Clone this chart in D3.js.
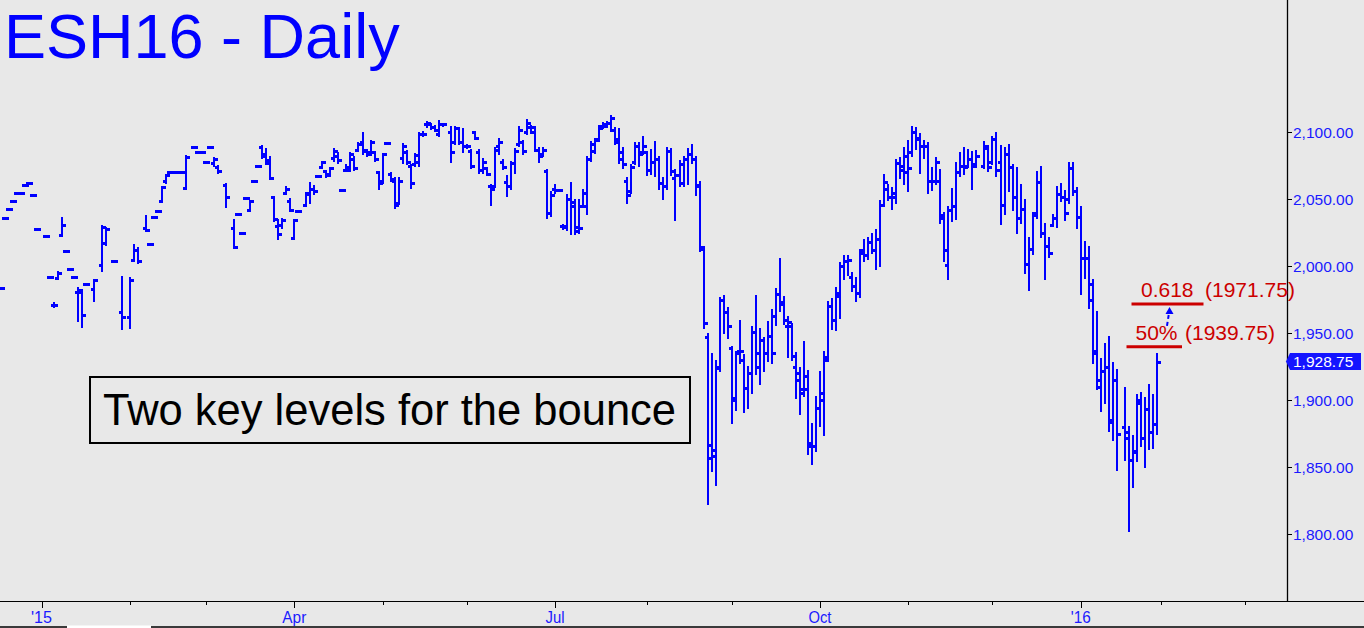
<!DOCTYPE html>
<html>
<head>
<meta charset="utf-8">
<script src="https://cdn.jsdelivr.net/npm/d3@7"></script>
<style>
  html, body { margin: 0; padding: 0; background: #e8e8e8; }
  svg { display: block; }
</style>
</head>
<body>
<svg id="chart" width="1364" height="628"></svg>
<script>
// ---- DATA (slot index: -10 = Dec 17 2014 ... 278 = Jan 29 2016; weekday slots) ----
const firstSlot = -10;
const opens = [
  1984,2036,2043,2048.5,2055,2055,2060.5,2062,2053,2028,
  null,2022.5,1992,1971,1991.5,2023,2011,1998,1992,1980.5,
  1980.5,1986.5,null,1982.7,null,2001,2017,null,2004,null,
  1965.6,null,1961.8,2005,2012,null,2028.3,2016.4,2036.5,2041,
  2048.7,2064,2070,2070,2070,2070,2058.2,null,2088.8,2085,
  2085,2077.6,2088.8,2077,2074.3,null,2061,null,2028.3,2038.8,
  2024.6,2050.7,2042,2063.6,2074.8,2088.8,2084,2079,2051.5,2030,
  2031,2055,2049,2021,2041,null,2046,2055,2058,2067.4,
  2074,2071,2068.5,2081,2082,2057,2072,2072,2080,2087,
  2093,2086,2085,2085,2070,2064,2091.8,2069,2064,2047,
  2081,2085,2075,2076,2078,2099,2106,2106,2104,2099,
  2106,null,2100.5,2093,2103,2093,2090,2086,2100,2085,
  2072,2073,2060,2060,2090,2078,2063,2060,2077,2091,
  2093,2100,2104,2104,2087,2084,2071,2040,2058,2057,
  2030,2030,2050,2048,2029,2045,2045,2080,2086,2095,
  2105,2105,2107,2102,2095,2085,2064,2056,2078,2090,
  2085,2085,2072,2078,2080,2062,2060,2086,2066,2068,
  2076,2080,2084,2080,2061,2012.6,1947,1856.5,1858,1925,
  1975,1966,1939,1900,1937,1930,1909,1920,1951,1925,
  1945,1935,1948,1963,1979,1972,1955,1955,1925,1915,
  1905,1918,1868,1866,1894,1900,1932,1970,1960,1978,
  2000,2004,1992,1985,1980,2012,2008,2018,2012,2020,
  2046,2058,2052,2052,2077,2075,2070,2085,2100,2096,
  2090,2090,2064,2064,2064,2036,2001,2042,2045,2070,
  2075,2075,2080,2076,null,2075,2088,2078,2095,2078,
  2046,2084,2074,2052,2036,2043,2002,2013,2040,2063,
  2025,2015,2031,2036,2054,2052,2050,2073,2056,2037,
  2006,2006,1975,1937,1915,1922,1925,1885,1915,null,
  1880,1872,1855,1862,1898,1872,1893,1876,1882
];
const highs = [
  1984,2036,2043,2048.5,2055,2055,2060.5,2062,2053,2028,
  null,2022.5,1992,1972.3,1995.6,2036,2011,1998,1992,1983.5,
  1982,1986.5,null,1990,null,2030,2028.3,null,2004,null,
  1992.2,null,1991,2015.8,2013.4,null,2037.7,2016.4,2036.5,2041,
  2059,2068,2070,2070,2070,2070,2082.5,null,2088.8,2085,
  2085,2077.6,2088.8,2080.6,2074.5,null,2061.4,null,2034.5,2038.8,
  2024.6,2050.7,2049,2063.6,2074.8,2089.8,2087.3,2081.8,2051.5,2034.5,
  2035,2059.4,2050,2034.5,2041,null,2054.4,2062.4,2060,2067.4,
  2078,2071.3,2073,2087.3,2084.3,2057,2075.6,2084.8,2081.8,2091.8,
  2099.7,2086.8,2093.7,2085.5,2070.6,2083.8,2091.8,2069.4,2065.6,2065.6,
  2091.3,2086,2075.6,2083.8,2099.3,2100,2107.5,2106.5,2104.5,2108.7,
  2106.5,null,2103.7,2104,2103,2102.2,2090.5,2086.8,2100.5,2086.8,
  2079.8,2073,2060.6,2088,2094.8,2079.3,2067.4,2078,2087.3,2104.2,
  2093.7,2109.2,2104.7,2104.2,2088,2088,2071.8,2055.6,2060.6,2057,
  2030.8,2053,2061.9,2049.4,2049.4,2056.9,2081.8,2093,2094.8,2104.7,
  2107.2,2108,2112.2,2103,2102.2,2088,2065.6,2075.6,2091.8,2091.8,
  2096.3,2085.5,2086.8,2093,2081.8,2065.6,2088,2087.3,2071.8,2078.8,
  2081.3,2087.3,2090.5,2081.3,2063,2014.6,1949,1934.4,1929.4,1976,
  1977.7,1968.5,1939.4,1936.2,1959.3,1933.7,1925,1954.4,1977.7,1952.9,
  1946.2,1958.6,1967.3,1982.7,2005.1,1977.2,1962.3,1957,1935.5,1923.7,
  1943.6,1922,1882.4,1902.6,1921.3,1936.2,1973.4,1975.2,1983.7,2002.3,
  2007.6,2007.6,1994.7,1991,2012,2019.6,2020.8,2023.8,2027,2048.7,
  2068.1,2060.6,2058.7,2079.3,2080.6,2088,2093.5,2104.2,2103.4,2098.4,
  2093.5,2091.8,2073,2081,2071.8,2039.5,2044.4,2057.6,2076.8,2084.3,
  2088.5,2086.8,2085.5,2086,null,2093,2089.8,2096.7,2099.3,2089.8,
  2088,2090.5,2075.6,2073,2060.6,2049.4,2020.8,2040,2070.6,2074.3,
  2031.5,2020.8,2038.2,2059.4,2061.4,2056.4,2076.8,2076.8,2058.2,2044.4,
  2018.3,2014.6,1989.7,1966,1930.4,1941.6,1947.3,1927.5,1922.5,null,
  1908.8,1880.2,1873.2,1903.9,1905.6,1901.4,1911.3,1903.9,1934.4
];
const lows = [
  1984,2036,2043,2048.5,2055,2055,2060.5,2062,2053,2028,
  null,2022.5,1992,1970.3,1991,2023,2011,1998,1992,1960,
  1955.6,1986.5,null,1974.7,null,1997,2016.6,null,2004,null,
  1953.6,null,1954.4,2004.6,2003.4,null,2027,2016.4,2036.5,2041,
  2048.7,2063,2070,2070,2070,2070,2058.2,null,2088.8,2085,
  2085,2077.6,2088.8,2075.6,2070.6,null,2045,null,2014.6,2038.8,
  2024.6,2050.7,2042,2063.6,2074.8,2081.3,2076.8,2065.6,2034.5,2020.8,
  2029,2054.4,2042,2020.8,2041,null,2046,2048.2,2054.4,2067.4,
  2073.9,2067.4,2068,2079.3,2078,2057,2071.8,2071.8,2072.4,2086.8,
  2084.8,2083,2083.8,2079.3,2058.2,2063.1,2091.8,2064.4,2044.4,2047,
  2078,2077,2059.4,2075.6,2075.6,2098,2105,2103.5,2101.5,2098,
  2105.5,null,2078.6,2091.8,2091.8,2086,2089,2074.3,2096,2070.6,
  2070.6,2068.9,2046.4,2060,2084.3,2073,2053.2,2058.2,2070,2090.5,
  2084.8,2099.3,2100.5,2086.8,2078.8,2083,2037,2038.2,2055.6,2057,
  2028.3,2028,2025,2024.6,2025.8,2045,2039.5,2079.3,2085.5,2094.3,
  2104.2,2105,2101.7,2091.8,2078,2074.3,2048.2,2055.6,2076.8,2075.6,
  2084.3,2068.9,2069.4,2068,2058.2,2050.7,2058.2,2068.9,2035,2060.6,
  2060.6,2061.9,2078,2053.9,2012,1954.4,1823.3,1847.8,1837.3,1922.5,
  1951.1,1947.3,1883.8,1893.2,1928.6,1891.5,1895,1906.3,1920,1913,
  1922.5,1930,1928.6,1956.8,1967.3,1957.4,1932.9,1931,1902.6,1890.2,
  1903.8,1860.3,1853.2,1862.7,1881.4,1874.7,1930,1953.6,1952.9,1962.3,
  1991,1993.9,1982.2,1974.8,1977.7,2004.6,2005.9,2010.4,1998.6,2000.9,
  2045.7,2050.2,2043.7,2047.7,2066.8,2062,2057,2083,2088,2070.6,
  2081.8,2055.2,2057.6,2061.9,2033.2,2004.6,1991.4,2034.5,2036.2,2068.1,
  2069.4,2075,2058.2,2075,null,2074.3,2071.8,2076.8,2068.1,2032.5,
  2039.5,2056.9,2042.5,2025.8,2033.2,1995.9,1982.7,2010.1,2037,2022.5,
  1991,2007.6,2030.8,2030,2049.4,2035,2048.2,2053.9,2029.5,1979.8,
  1992.2,1969.8,1928.6,1908.8,1892.5,1898.9,1877.7,1870.7,1848.3,null,
  1855.8,1803.3,1835.9,1855.3,1866.5,1850.8,1864,1865.2,1875.7
];
const closes = [
  1984,2036,2043,2048.5,2055,2055,2060.5,2062,2053,2028,
  null,2022.5,1992,1971,1995,2030.5,2011,1998,1992,1982,
  1963.6,1986.5,null,1990,null,2029.5,2027.6,null,2004,null,
  1961.8,null,1990,2012,2004,null,2027,2016.4,2036.5,2041,
  2059,2068,2070,2070,2070,2070,2081.3,null,2088.8,2085,
  2085,2077.6,2088.8,2080,2071,null,2052,null,2014.6,2038.8,
  2024.6,2050.7,2049,2063.6,2074.8,2082,2077,2066,2035,2024,
  2034.5,2058,2042,2034.5,2041,null,2054,2058,2056,2067.4,
  2078,2068,2073,2086,2079,2057,2074,2084,2073,2091,
  2087,2084,2093,2080,2062,2083.5,2091.8,2065,2046,2064,
  2090,2078,2062,2083,2099,2099,2107,2104,2102,2106,
  2106,null,2085.5,2103,2093,2090,2090,2075,2096,2072,
  2078,2069,2058,2087,2093,2074,2060,2077,2086,2102,
  2086,2107,2100.5,2087,2082,2087,2040,2053,2057,2057,
  2029,2050,2045,2026,2028.5,2055,2080,2091,2094,2103,
  2106,2107,2111,2093,2080,2076,2053,2074,2090,2084,
  2090,2072,2078,2080,2062,2060,2086,2071,2068,2062,
  2080,2084,2080,2060,2014,1957.4,1866.5,1863,1923.7,1974.8,
  1966,1955.3,1901.4,1935,1937,1908.9,1920,1951,1935,1945,
  1935,1948,1935,1979.5,1973,1960,1958,1933,1920,1908,
  1908,1866,1866,1894,1905,1930,1970,1960,1980,2000,
  2004,2005,1985,1980,2010,2008,2018,2012,2020,2046,
  2063,2052,2055,2077,2072,2082,2073,2100,2095,2090,
  2090,2064,2064,2078,2038,2012,2042,2045,2070,2075,
  2074,2080,2075,2082,null,2090,2074,2095,2072,2046,
  2084,2074,2052,2036,2043,2002,2013,2038,2063,2025,
  2015,2010,2036,2054,2052,2040,2073,2056,2037,2006,
  2006,1987,1935,1910,1922,1925,1884,1915,1875,null,
  1876,1855,1861,1900,1872,1893,1876,1882,1928.75
];

// axis ticks
const priceTicks = [1800, 1850, 1900, 1950, 2000, 2050, 2100];
const majorTickSlots = [0, 63, 128, 194, 259];
const majorTickLabels = ["'15", "Apr", "Jul", "Oct", "'16"];
const minorTickSlots = [22, 41, 85, 106, 151, 172, 216, 237, 279, 300];
const lastPrice = 1928.75;

// annotation levels
const levelValues = [1971.75, 1939.75];
const levelNames = ["0.618", "50%"];
const titleText = "ESH16 - Daily";
const noteText = "Two key levels for the bounce";

// ---- DRAW ----
const W = 1364, H = 628;
const plotRight = 1287, axisY = 601;
const BLUE = "#0000ff", RED = "#cc0000", BG = "#e8e8e8";

const svg = d3.select("#chart");
svg.append("rect").attr("width", W).attr("height", H).attr("fill", BG);

const x = d3.scaleLinear().domain([0, 278]).range([41.5, 1157]);
const y = d3.scaleLinear().domain([1800, 2100]).range([534, 132.3]);

const bars = opens.map((o, i) => ({
  s: firstSlot + i, o, h: highs[i], l: lows[i], c: closes[i]
})).filter(d => d.o !== null && d.h !== null);

svg.append("defs").append("clipPath").attr("id", "plotclip")
  .append("rect").attr("x", 0).attr("y", 0).attr("width", plotRight).attr("height", axisY);

const gb = svg.append("g").attr("clip-path", "url(#plotclip)")
  .attr("fill", BLUE).attr("shape-rendering", "crispEdges");

const barG = gb.selectAll("g.bar").data(bars).join("g").attr("class", "bar");
barG.append("rect")
  .attr("x", d => Math.round(x(d.s)) - 1)
  .attr("y", d => Math.round(y(d.h)) - 1)
  .attr("width", 2)
  .attr("height", d => Math.max(3, Math.round(y(d.l)) - Math.round(y(d.h)) + 3));
barG.append("rect")
  .attr("x", d => Math.round(x(d.s)) - 3)
  .attr("y", d => Math.round(y(d.o)) - 1)
  .attr("width", 2).attr("height", 3);
barG.append("rect")
  .attr("x", d => Math.round(x(d.s)) + 1)
  .attr("y", d => Math.round(y(d.c)) - 1)
  .attr("width", 3).attr("height", 3);

// right axis
svg.append("line").attr("x1", plotRight + 0.5).attr("x2", plotRight + 0.5)
  .attr("y1", 0).attr("y2", axisY).attr("stroke", "#000").attr("stroke-width", 1.3);
const fmt = d3.format(",.2f");
const ra = svg.append("g");
ra.selectAll("line").data(priceTicks).join("line")
  .attr("x1", plotRight).attr("x2", plotRight + 5)
  .attr("y1", d => Math.round(y(d)) + 0.5).attr("y2", d => Math.round(y(d)) + 0.5)
  .attr("stroke", "#000").attr("stroke-width", 1);
ra.selectAll("text").data(priceTicks).join("text")
  .attr("x", 1293).attr("y", d => y(d) + 5.5)
  .attr("font-family", "Liberation Sans, Arial, sans-serif")
  .attr("font-size", 15.5).attr("fill", "#1a1aff")
  .text(d => fmt(d));

// last price tag
const ly = y(lastPrice);
svg.append("path")
  .attr("d", `M${plotRight - 1},${ly} L${plotRight + 3},${ly - 8.5} L1361,${ly - 8.5} L1361,${ly + 8.5} L${plotRight + 3},${ly + 8.5} Z`)
  .attr("fill", "#1414ff");
svg.append("text").attr("x", 1293).attr("y", ly + 5.5)
  .attr("font-family", "Liberation Sans, Arial, sans-serif")
  .attr("font-size", 15.5).attr("fill", "#ffffff").text(fmt(lastPrice));

// bottom axis
svg.append("line").attr("x1", 0).attr("x2", W).attr("y1", axisY + 0.5).attr("y2", axisY + 0.5)
  .attr("stroke", "#000").attr("stroke-width", 1.2);
const ba = svg.append("g");
ba.selectAll("line.major").data(majorTickSlots).join("line").attr("class", "major")
  .attr("x1", d => Math.round(x(d)) + 0.5).attr("x2", d => Math.round(x(d)) + 0.5)
  .attr("y1", axisY).attr("y2", axisY + 7).attr("stroke", "#000");
ba.selectAll("line.minor").data(minorTickSlots).join("line").attr("class", "minor")
  .attr("x1", d => Math.round(x(d)) + 0.5).attr("x2", d => Math.round(x(d)) + 0.5)
  .attr("y1", axisY).attr("y2", axisY + 4).attr("stroke", "#000");
ba.selectAll("text").data(majorTickSlots).join("text")
  .attr("x", d => x(d)).attr("y", 622.5)
  .attr("text-anchor", "middle")
  .attr("font-family", "Liberation Sans Narrow, Arial Narrow, Liberation Sans, sans-serif")
  .attr("font-size", 17).attr("fill", "#1a1aff")
  .attr("textLength", (d, i) => [21, 24, 19, 23, 20][i])
  .attr("lengthAdjust", "spacingAndGlyphs")
  .text((d, i) => majorTickLabels[i]);

// bottom border strip
svg.append("line").attr("x1", 0).attr("x2", W).attr("y1", 627).attr("y2", 627)
  .attr("stroke", "#000").attr("stroke-width", 1.5);
svg.append("rect").attr("x", 67).attr("y", 625.5).attr("width", 84).attr("height", 3).attr("fill", "#ffffff");

// title
svg.append("text").attr("x", 4).attr("y", 57.5)
  .attr("font-family", "Liberation Sans, Arial, sans-serif")
  .attr("font-size", 63).attr("fill", BLUE).text(titleText);

// note box
svg.append("rect").attr("x", 90).attr("y", 377).attr("width", 600).attr("height", 66)
  .attr("fill", BG).attr("stroke", "#000").attr("stroke-width", 2);
svg.append("text").attr("x", 389.5).attr("y", 425)
  .attr("text-anchor", "middle")
  .attr("font-family", "Liberation Sans, Arial, sans-serif")
  .attr("font-size", 43.5).attr("fill", "#000").text(noteText);

// levels
const levelLines = [[1131.5, 1203.5], [1126.5, 1182]];
const nameX = [1141, 1135.5];
const valX = [1205, 1185];
levelValues.forEach((v, i) => {
  const yy = y(v);
  svg.append("line").attr("x1", levelLines[i][0]).attr("x2", levelLines[i][1])
    .attr("y1", yy).attr("y2", yy).attr("stroke", RED).attr("stroke-width", 3);
  svg.append("text").attr("x", nameX[i]).attr("y", yy - 7)
    .attr("font-family", "Liberation Sans, Arial, sans-serif")
    .attr("font-size", 21).attr("fill", RED).text(levelNames[i]);
  svg.append("text").attr("x", valX[i]).attr("y", yy - 7)
    .attr("font-family", "Liberation Sans, Arial, sans-serif")
    .attr("font-size", 21).attr("fill", RED).text("(" + v.toFixed(2) + ")");
});

// dashed arrow between levels
const ay0 = y(levelValues[1]) - 21, ay1 = y(levelValues[0]) + 9;
svg.append("line").attr("x1", 1167).attr("y1", ay0).attr("x2", 1169).attr("y2", ay1)
  .attr("stroke", BLUE).attr("stroke-width", 2).attr("stroke-dasharray", "4,3");
svg.append("path")
  .attr("d", `M1169.5,${ay1 - 6} L1165.5,${ay1 + 1} L1173.5,${ay1 + 1} Z`)
  .attr("fill", BLUE);
</script>
</body>
</html>
